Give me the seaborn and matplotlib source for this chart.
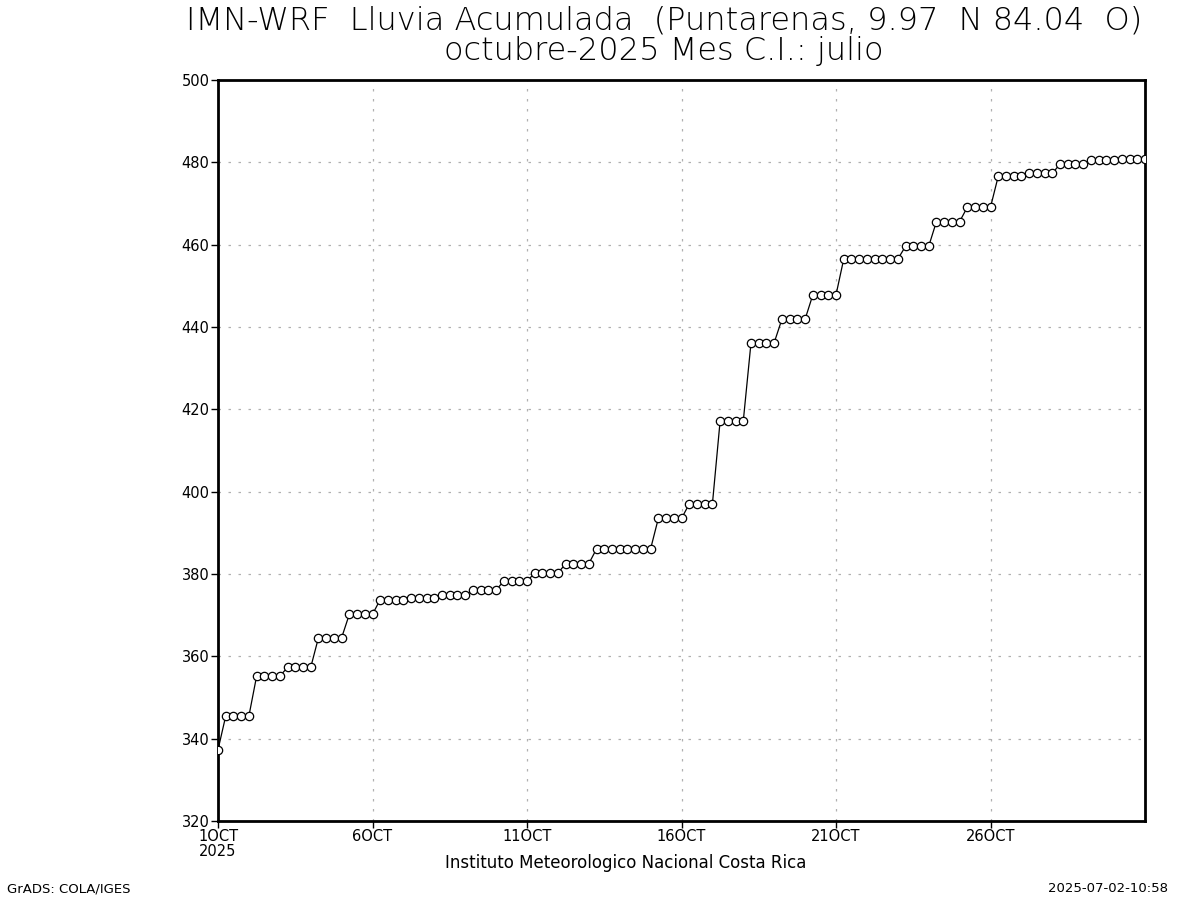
import matplotlib
matplotlib.use("Agg")
import matplotlib.pyplot as plt
import seaborn as sns
import numpy as np
import pandas as pd

# 6-hourly accumulated rainfall (mm), 1 Oct 00Z .. 31 Oct 00Z
rain = [
    337.3,
    345.5, 345.5, 345.5, 345.5,
    355.2, 355.2, 355.2, 355.2,
    357.3, 357.3, 357.3, 357.3,
    364.5, 364.5, 364.5, 364.5,
    370.2, 370.2, 370.2, 370.2,
    373.8, 373.8, 373.8, 373.8,
    374.2, 374.2, 374.2, 374.2,
    374.8, 374.8, 374.8, 374.8,
    376.1, 376.1, 376.1, 376.1,
    378.3, 378.3, 378.3, 378.3,
    380.2, 380.2, 380.2, 380.2,
    382.5, 382.5, 382.5, 382.5,
    386.1, 386.1, 386.1, 386.1,
    386.1, 386.1, 386.1, 386.1,
    393.5, 393.5, 393.5, 393.5,
    397.0, 397.0, 397.0, 397.0,
    417.2, 417.2, 417.2, 417.2,
    436.2, 436.2, 436.2, 436.2,
    441.9, 441.9, 441.9, 441.9,
    447.8, 447.8, 447.8, 447.8,
    456.5, 456.5, 456.5, 456.5,
    456.5, 456.5, 456.5, 456.5,
    459.6, 459.6, 459.6, 459.6,
    465.6, 465.6, 465.6, 465.6,
    469.1, 469.1, 469.1, 469.1,
    476.6, 476.6, 476.6, 476.6,
    477.3, 477.3, 477.3, 477.3,
    479.6, 479.6, 479.6, 479.6,
    480.6, 480.6, 480.6, 480.6,
    480.8, 480.8, 480.8, 480.8,
]
days = [i * 0.25 for i in range(len(rain))]  # days since 1 Oct 00Z

x_tick_pos = [0, 5, 10, 15, 20, 25]
x_tick_labels = ["1OCT\n2025", "6OCT", "11OCT", "16OCT", "21OCT", "26OCT"]
y_ticks = [320, 340, 360, 380, 400, 420, 440, 460, 480, 500]

title = "IMN-WRF  Lluvia Acumulada  (Puntarenas, 9.97  N 84.04  O)\noctubre-2025 Mes C.I.: julio"
bottom_label = "Instituto Meteorologico Nacional Costa Rica"
left_note = "GrADS: COLA/IGES"
right_note = "2025-07-02-10:58"

sns.set_theme(style="white")
plt.rcParams["font.family"] = ["DejaVu Sans"]
plt.rcParams["text.color"] = "black"
plt.rcParams["xtick.color"] = "black"
plt.rcParams["ytick.color"] = "black"
plt.rcParams["xtick.labelcolor"] = "black"
plt.rcParams["ytick.labelcolor"] = "black"

df = pd.DataFrame({"day": days, "rain": rain})

fig = plt.figure(figsize=(12, 9), dpi=100)
ax = fig.add_axes([218 / 1200, 1 - 821 / 900, (1145 - 218) / 1200, (821 - 80) / 900])

sns.lineplot(data=df, x="day", y="rain", ax=ax, color="black", linewidth=0.9,
             marker="o", markersize=6, markerfacecolor="white",
             markeredgecolor="black", markeredgewidth=0.9, zorder=3)

ax.set_xlim(0, 30)
ax.set_ylim(320, 500)
ax.set_xticks(x_tick_pos)
ax.set_xticklabels(x_tick_labels, fontsize=10.5, linespacing=0.95)
ax.set_yticks(y_ticks)
ax.set_yticklabels([str(v) for v in y_ticks], fontsize=10.5)
for lbl in ax.get_xticklabels():
    lbl.set_horizontalalignment("center")
ax.set_xlabel("")
ax.set_ylabel("")

ax.grid(True, color="#b0b0b0", linestyle=(0, (2, 6)), linewidth=0.9)
for s in ax.spines.values():
    s.set_color("black")
    s.set_linewidth(2)
    s.set_visible(True)
ax.tick_params(axis="both", which="major", direction="out", length=5, width=1,
               color="black", pad=1, bottom=True, left=True, top=False, right=False)

fig.text(664 / 1200, 1 - 6 / 900, title, ha="center", va="top", fontsize=23,
         fontweight="light", linespacing=1.02, color="black")
fig.text(626 / 1200, 1 - 863 / 900, bottom_label, ha="center", va="center",
         fontsize=12, color="black")
fig.text(7 / 1200, 1 - 889 / 900, left_note, ha="left", va="center", fontsize=9.5,
         color="black")
fig.text(1168 / 1200, 1 - 889 / 900, right_note, ha="right", va="center",
         fontsize=9.5, color="black")

fig.savefig("out.png", dpi=100, facecolor="white")
